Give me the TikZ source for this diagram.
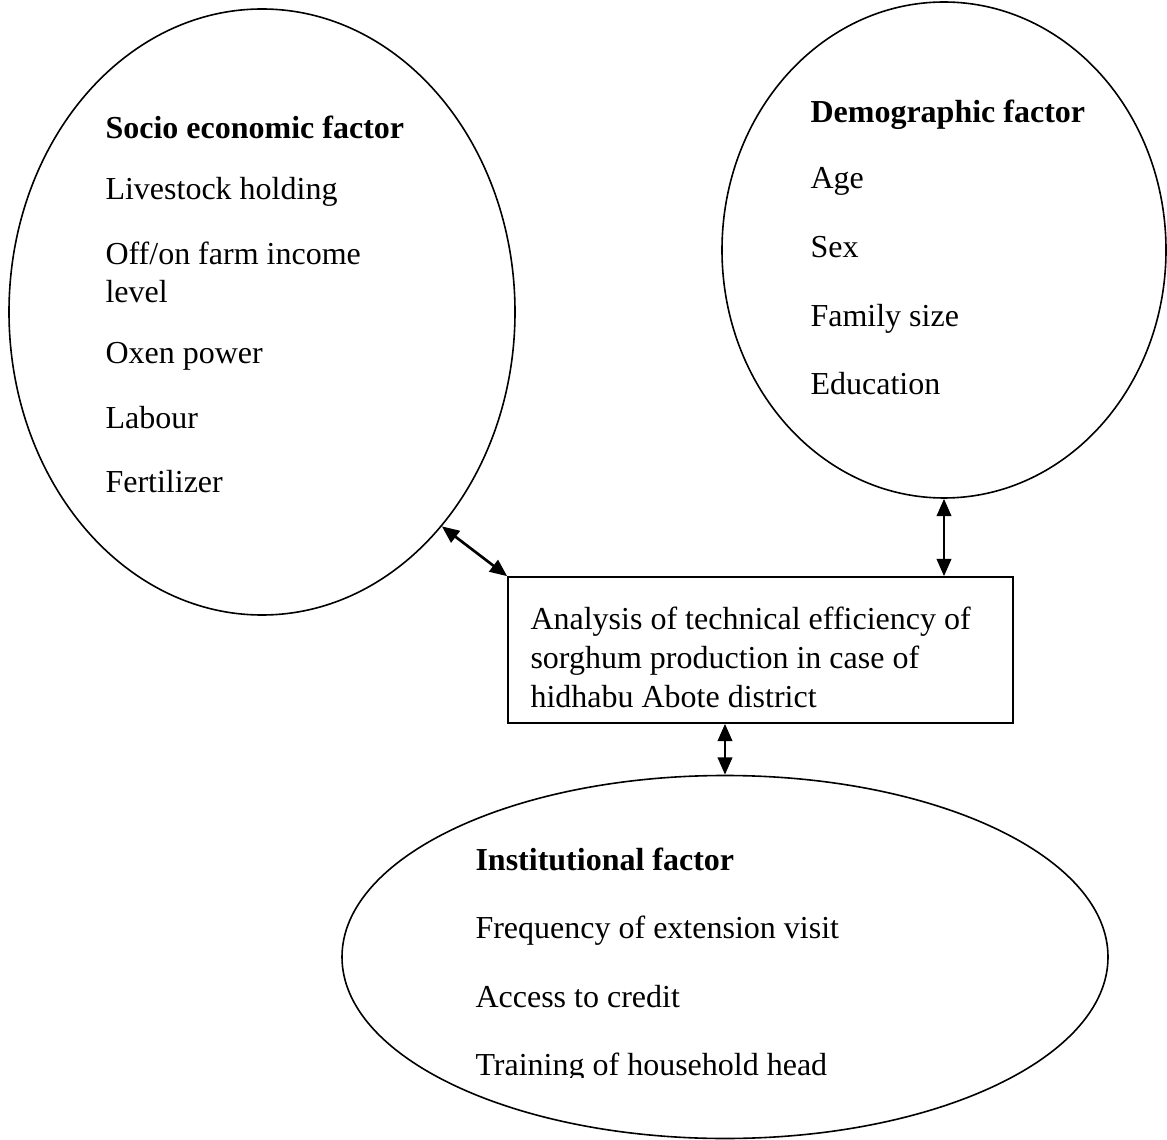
\documentclass[tikz,border=0pt]{standalone}
\usepackage{fontspec}
\setmainfont{Liberation Serif}
\usetikzlibrary{shapes.geometric, positioning, arrows.meta}
\newlength\px
\setlength\px{0.375pt}
\tikzset{
  factor/.style={draw, ellipse, line width=0.6pt, inner sep=0pt},
  item/.style={anchor=base west, inner sep=0pt, font=\fontsize{12}{14.4}\selectfont},
  head/.style={item, font=\fontsize{12}{14.4}\selectfont\bfseries},
  link/.style={{Triangle[length=6.5pt,width=5.4pt]}-{Triangle[length=6.5pt,width=5.4pt]}, line width=1pt}
}

\begin{document}
\begin{tikzpicture}[x=0.375pt, y=-0.375pt]
\useasboundingbox (0,0) rectangle (1167,1140);
% the three factor groups and the study box
\node[factor, minimum width=506\px, minimum height=606\px] (socio) at (262,312) {};
\node[factor, minimum width=444\px, minimum height=496\px] (demo) at (944,250) {};
\node[factor, minimum width=766\px, minimum height=363\px] (inst) at (725,957) {};
\node[draw, line width=0.6pt, inner sep=0pt, minimum width=505\px, minimum height=146\px] (study) at (760.5,650) {};

% socio economic
\node[head] (soc0) at (105,139) {Socio economic factor};
\node[item] (soc1) at (105,200) {Livestock holding};
\node[item] (soc2) at (105,265) {Off/on farm income};
\node[item] (soc3) at (105,303) {level};
\node[item] (soc4) at (105,364) {Oxen power};
\node[item] (soc5) at (105,429) {Labour};
\node[item] (soc6) at (105,493) {Fertilizer};

% demographic
\node[head] (dem0) at (810,123) {Demographic factor};
\node[item] (dem1) at (810,189) {Age};
\node[item] (dem2) at (810,258) {Sex};
\node[item] (dem3) at (810,327) {Family size};
\node[item] (dem4) at (810,395) {Education};

% study
\node[item, text width=470\px, align=left, font=\fontsize{12}{14.45}\selectfont] (title) at (530,630)
  {\spaceskip=0pt\xspaceskip=0pt\relax Analysis of technical efficiency of\\ sorghum production in case of\\ hidhabu Abote district};

% institutional
\node[head] (ins0) at (475,870) {Institutional factor};
\node[item] (ins1) at (475,938) {Frequency of extension visit};
\node[item] (ins2) at (475,1007) {Access to credit};
\begin{scope}
\clip (0,0) rectangle (1167,1077);
\node[item] (ins3) at (475,1075) {Training of household head};
\end{scope}

\draw[link] (socio.-50.3) -- (study.north west);
\draw[link] (demo.south) -- (demo.south |- study.north);
\draw[link] (study.south -| inst.north) -- (inst.north);
\end{tikzpicture}
\end{document}
